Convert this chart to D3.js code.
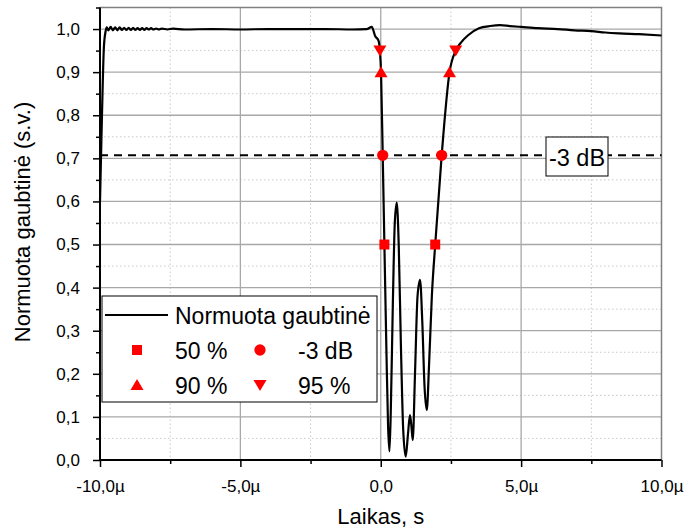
<!DOCTYPE html>
<html>
<head>
<meta charset="utf-8">
<script src="https://cdn.jsdelivr.net/npm/d3@7"></script>
<style>
body{margin:0;background:#fff}
text{font-family:"Liberation Sans",Arial,sans-serif}
</style>
</head>
<body>
<svg id="chart"></svg>
<script>
// envelope, time in microseconds
var envelope = [
  [-10.0,0.60],[-9.93,0.80],[-9.86,0.96],[-9.80,0.995],[-9.76,1.004],
  [-9.70,0.997],[-9.62,1.005],[-9.54,0.997],[-9.46,1.004],[-9.38,0.997],
  [-9.30,1.004],[-9.22,0.998],[-9.14,1.003],[-9.06,0.998],[-8.98,1.003],
  [-8.90,0.998],[-8.82,1.003],[-8.74,0.998],[-8.66,1.002],[-8.58,0.998],
  [-8.50,1.002],[-8.42,0.998],[-8.34,1.002],[-8.26,0.999],[-8.18,1.002],
  [-8.10,0.999],[-8.00,1.001],[-7.90,0.999],[-7.80,1.001],[-7.60,0.999],
  [-7.40,1.001],[-7.00,0.999],[-6.00,1.0],[-5.00,0.999],[-4.00,1.0],
  [-3.00,1.0],[-2.00,1.0],[-1.00,0.999],[-0.50,1.0],[-0.32,1.005],
  [-0.20,0.984],[-0.08,0.973],[-0.03,0.95],[0.01,0.90],[0.07,0.707],
  [0.13,0.50],[0.20,0.26],[0.26,0.08],[0.31,0.02],[0.36,0.12],
  [0.43,0.36],[0.50,0.55],[0.57,0.597],[0.64,0.50],[0.72,0.26],
  [0.80,0.07],[0.89,0.008],[0.97,0.06],[1.04,0.104],[1.09,0.08],
  [1.14,0.046],[1.22,0.20],[1.31,0.38],[1.40,0.418],[1.48,0.32],
  [1.56,0.17],[1.64,0.116],[1.72,0.22],[1.82,0.38],[1.94,0.50],
  [2.17,0.707],[2.45,0.90],[2.67,0.95],[2.85,0.968],[3.10,0.985],
  [3.50,1.002],[3.90,1.007],[4.25,1.009],[4.60,1.007],[5.00,1.005],
  [5.60,1.002],[6.30,1.0],[6.90,0.997],[7.50,0.995],[8.00,0.992],
  [8.50,0.99],[9.20,0.988],[10.0,0.985]
];

var mark50 = [[0.13,0.5],[1.94,0.5]];
var mark3dB = [[0.07,0.707],[2.17,0.707]];
var mark90 = [[0.01,0.9],[2.45,0.9]];
var mark95 = [[-0.03,0.95],[2.67,0.95]];
var level3dB = 0.707;

var xTicks = [-10,-5,0,5,10];
var xTickLabels = ["-10,0µ","-5,0µ","0,0","5,0µ","10,0µ"];
var xMinor = [-7.5,-2.5,2.5,7.5];
var yTicks = [0,0.1,0.2,0.3,0.4,0.5,0.6,0.7,0.8,0.9,1.0];
var yTickLabels = ["0,0","0,1","0,2","0,3","0,4","0,5","0,6","0,7","0,8","0,9","1,0"];
var yMinor = [0.05,0.15,0.25,0.35,0.45,0.55,0.65,0.75,0.85,0.95,1.05];

var drawChart = function(){

var width = 687, height = 530;
var pLeft = 100, pRight = 661.5, pTop = 7.5, pBottom = 460;

var svg = d3.select("#chart")
    .attr("width", width)
    .attr("height", height)

var x = d3.scaleLinear().domain([-10,10]).range([pLeft,pRight])
var y = d3.scaleLinear().domain([0,1.05]).range([pBottom,pTop])

// grid
svg.append("g").selectAll("line")
    .data(yMinor.slice(0,-1))
    .enter().append("line")
    .attr("x1",pLeft).attr("x2",pRight)
    .attr("y1",function(d){return y(d)}).attr("y2",function(d){return y(d)})
    .attr("stroke","#c8c8c8").attr("stroke-dasharray","1.5,2.5")
svg.append("g").selectAll("line")
    .data(xMinor)
    .enter().append("line")
    .attr("y1",pTop).attr("y2",pBottom)
    .attr("x1",function(d){return x(d)}).attr("x2",function(d){return x(d)})
    .attr("stroke","#c8c8c8").attr("stroke-dasharray","1.5,2.5")
svg.append("g").selectAll("line")
    .data(yTicks.slice(1))
    .enter().append("line")
    .attr("x1",pLeft).attr("x2",pRight)
    .attr("y1",function(d){return y(d)}).attr("y2",function(d){return y(d)})
    .attr("stroke","#a8a8a8").attr("stroke-width",1.3)
svg.append("g").selectAll("line")
    .data(xTicks.slice(1,-1))
    .enter().append("line")
    .attr("y1",pTop).attr("y2",pBottom)
    .attr("x1",function(d){return x(d)}).attr("x2",function(d){return x(d)})
    .attr("stroke","#a8a8a8").attr("stroke-width",1.3)

// frame top/right
svg.append("path")
    .attr("d","M"+pLeft+","+pTop+"H"+pRight+"V"+pBottom)
    .attr("fill","none").attr("stroke","#808080").attr("stroke-width",1.5)

// -3 dB line
svg.append("line")
    .attr("x1",pLeft).attr("x2",pRight)
    .attr("y1",y(level3dB)).attr("y2",y(level3dB))
    .attr("stroke","#000").attr("stroke-width",2)
    .attr("stroke-dasharray","8,6")

// envelope
var line = d3.line()
    .x(function(d){return x(d[0])})
    .y(function(d){return y(d[1])})
    .curve(d3.curveMonotoneX)
svg.append("path")
    .datum(envelope)
    .attr("d",line)
    .attr("fill","none")
    .attr("stroke","#000")
    .attr("stroke-width",2.2)
    .attr("stroke-linejoin","round")

// markers
var red = "#ff0000";
var shape = function(type,size){
    if(type=="tri") return "M0,-6L6.5,5H-6.5Z";
    if(type=="tridown") return "M0,6L6.5,-5H-6.5Z";
    return d3.symbol().type(type).size(size)();
}
var drawMarkers = function(data, type, size){
    svg.append("g").selectAll("path")
        .data(data)
        .enter().append("path")
        .attr("transform",function(d){return "translate("+x(d[0])+","+y(d[1])+")"})
        .attr("d",shape(type,size))
        .attr("fill",red)
}
drawMarkers(mark50, d3.symbolSquare, 100)
drawMarkers(mark3dB, d3.symbolCircle, 100)
drawMarkers(mark90, "tri")
drawMarkers(mark95, "tridown")

// axes
var gx = svg.append("g")
    .attr("transform","translate(0,"+pBottom+")")
    .call(d3.axisBottom(x).tickValues(xTicks)
        .tickFormat(function(d,i){return xTickLabels[i]})
        .tickSize(7).tickPadding(13))
svg.append("g").attr("transform","translate(0,"+pBottom+")")
    .call(d3.axisBottom(x).tickValues(xMinor).tickSize(4).tickFormat(""))
    .select(".domain").remove()

var gy = svg.append("g")
    .attr("transform","translate("+pLeft+",0)")
    .call(d3.axisLeft(y).tickValues(yTicks)
        .tickFormat(function(d,i){return yTickLabels[i]})
        .tickSize(7).tickPadding(13))
svg.append("g").attr("transform","translate("+pLeft+",0)")
    .call(d3.axisLeft(y).tickValues(yMinor).tickSize(4).tickFormat(""))
    .select(".domain").remove()

gx.select(".domain").attr("d","M"+(pLeft-1)+",0H"+pRight)
    .attr("stroke","#000").attr("stroke-width",2)
gy.select(".domain").attr("d","M0,"+pTop+"V"+(pBottom+1))
    .attr("stroke","#000").attr("stroke-width",2)
svg.selectAll(".tick line").attr("stroke","#000").attr("stroke-width",1.5)
svg.selectAll(".tick text").attr("font-size",17).attr("fill","#000")
    .style("font-family","'Liberation Sans',Arial,sans-serif")

// axis titles
svg.append("text")
    .attr("x",(pLeft+pRight)/2).attr("y",524)
    .attr("text-anchor","middle").attr("font-size",22)
    .text("Laikas, s")
svg.append("text")
    .attr("transform","translate(30,222) rotate(-90)")
    .attr("text-anchor","middle").attr("font-size",22)
    .text("Normuota gaubtinė (s.v.)")

// -3 dB label
svg.append("rect")
    .attr("x",546).attr("y",137).attr("width",62).attr("height",39)
    .attr("fill","#fff").attr("stroke","#000").attr("stroke-width",1)
svg.append("text")
    .attr("x",577).attr("y",166).attr("text-anchor","middle")
    .attr("font-size",23.5).text("-3 dB")

// legend
var lg = svg.append("g")
lg.append("rect")
    .attr("x",102).attr("y",296).attr("width",275).attr("height",106)
    .attr("fill","#fff").attr("stroke","#000").attr("stroke-width",1)
lg.append("line")
    .attr("x1",105).attr("x2",168).attr("y1",315).attr("y2",315)
    .attr("stroke","#000").attr("stroke-width",2)
lg.append("text").attr("x",175).attr("y",324).attr("font-size",23)
    .text("Normuota gaubtinė")
var legendItems = [
    {t:d3.symbolSquare, label:"50 %", cx:137, cy:350},
    {t:d3.symbolCircle, label:"-3 dB", cx:260, cy:350},
    {t:"tri", label:"90 %", cx:137, cy:385},
    {t:"tridown", label:"95 %", cx:260, cy:385}
]
legendItems.forEach(function(it){
    lg.append("path")
        .attr("transform","translate("+it.cx+","+it.cy+")")
        .attr("d",shape(it.t,100)).attr("fill",red)
    lg.append("text").attr("x",it.cx+38).attr("y",it.cy+9)
        .attr("font-size",23).text(it.label)
})
}

drawChart()
</script>
</body>
</html>
